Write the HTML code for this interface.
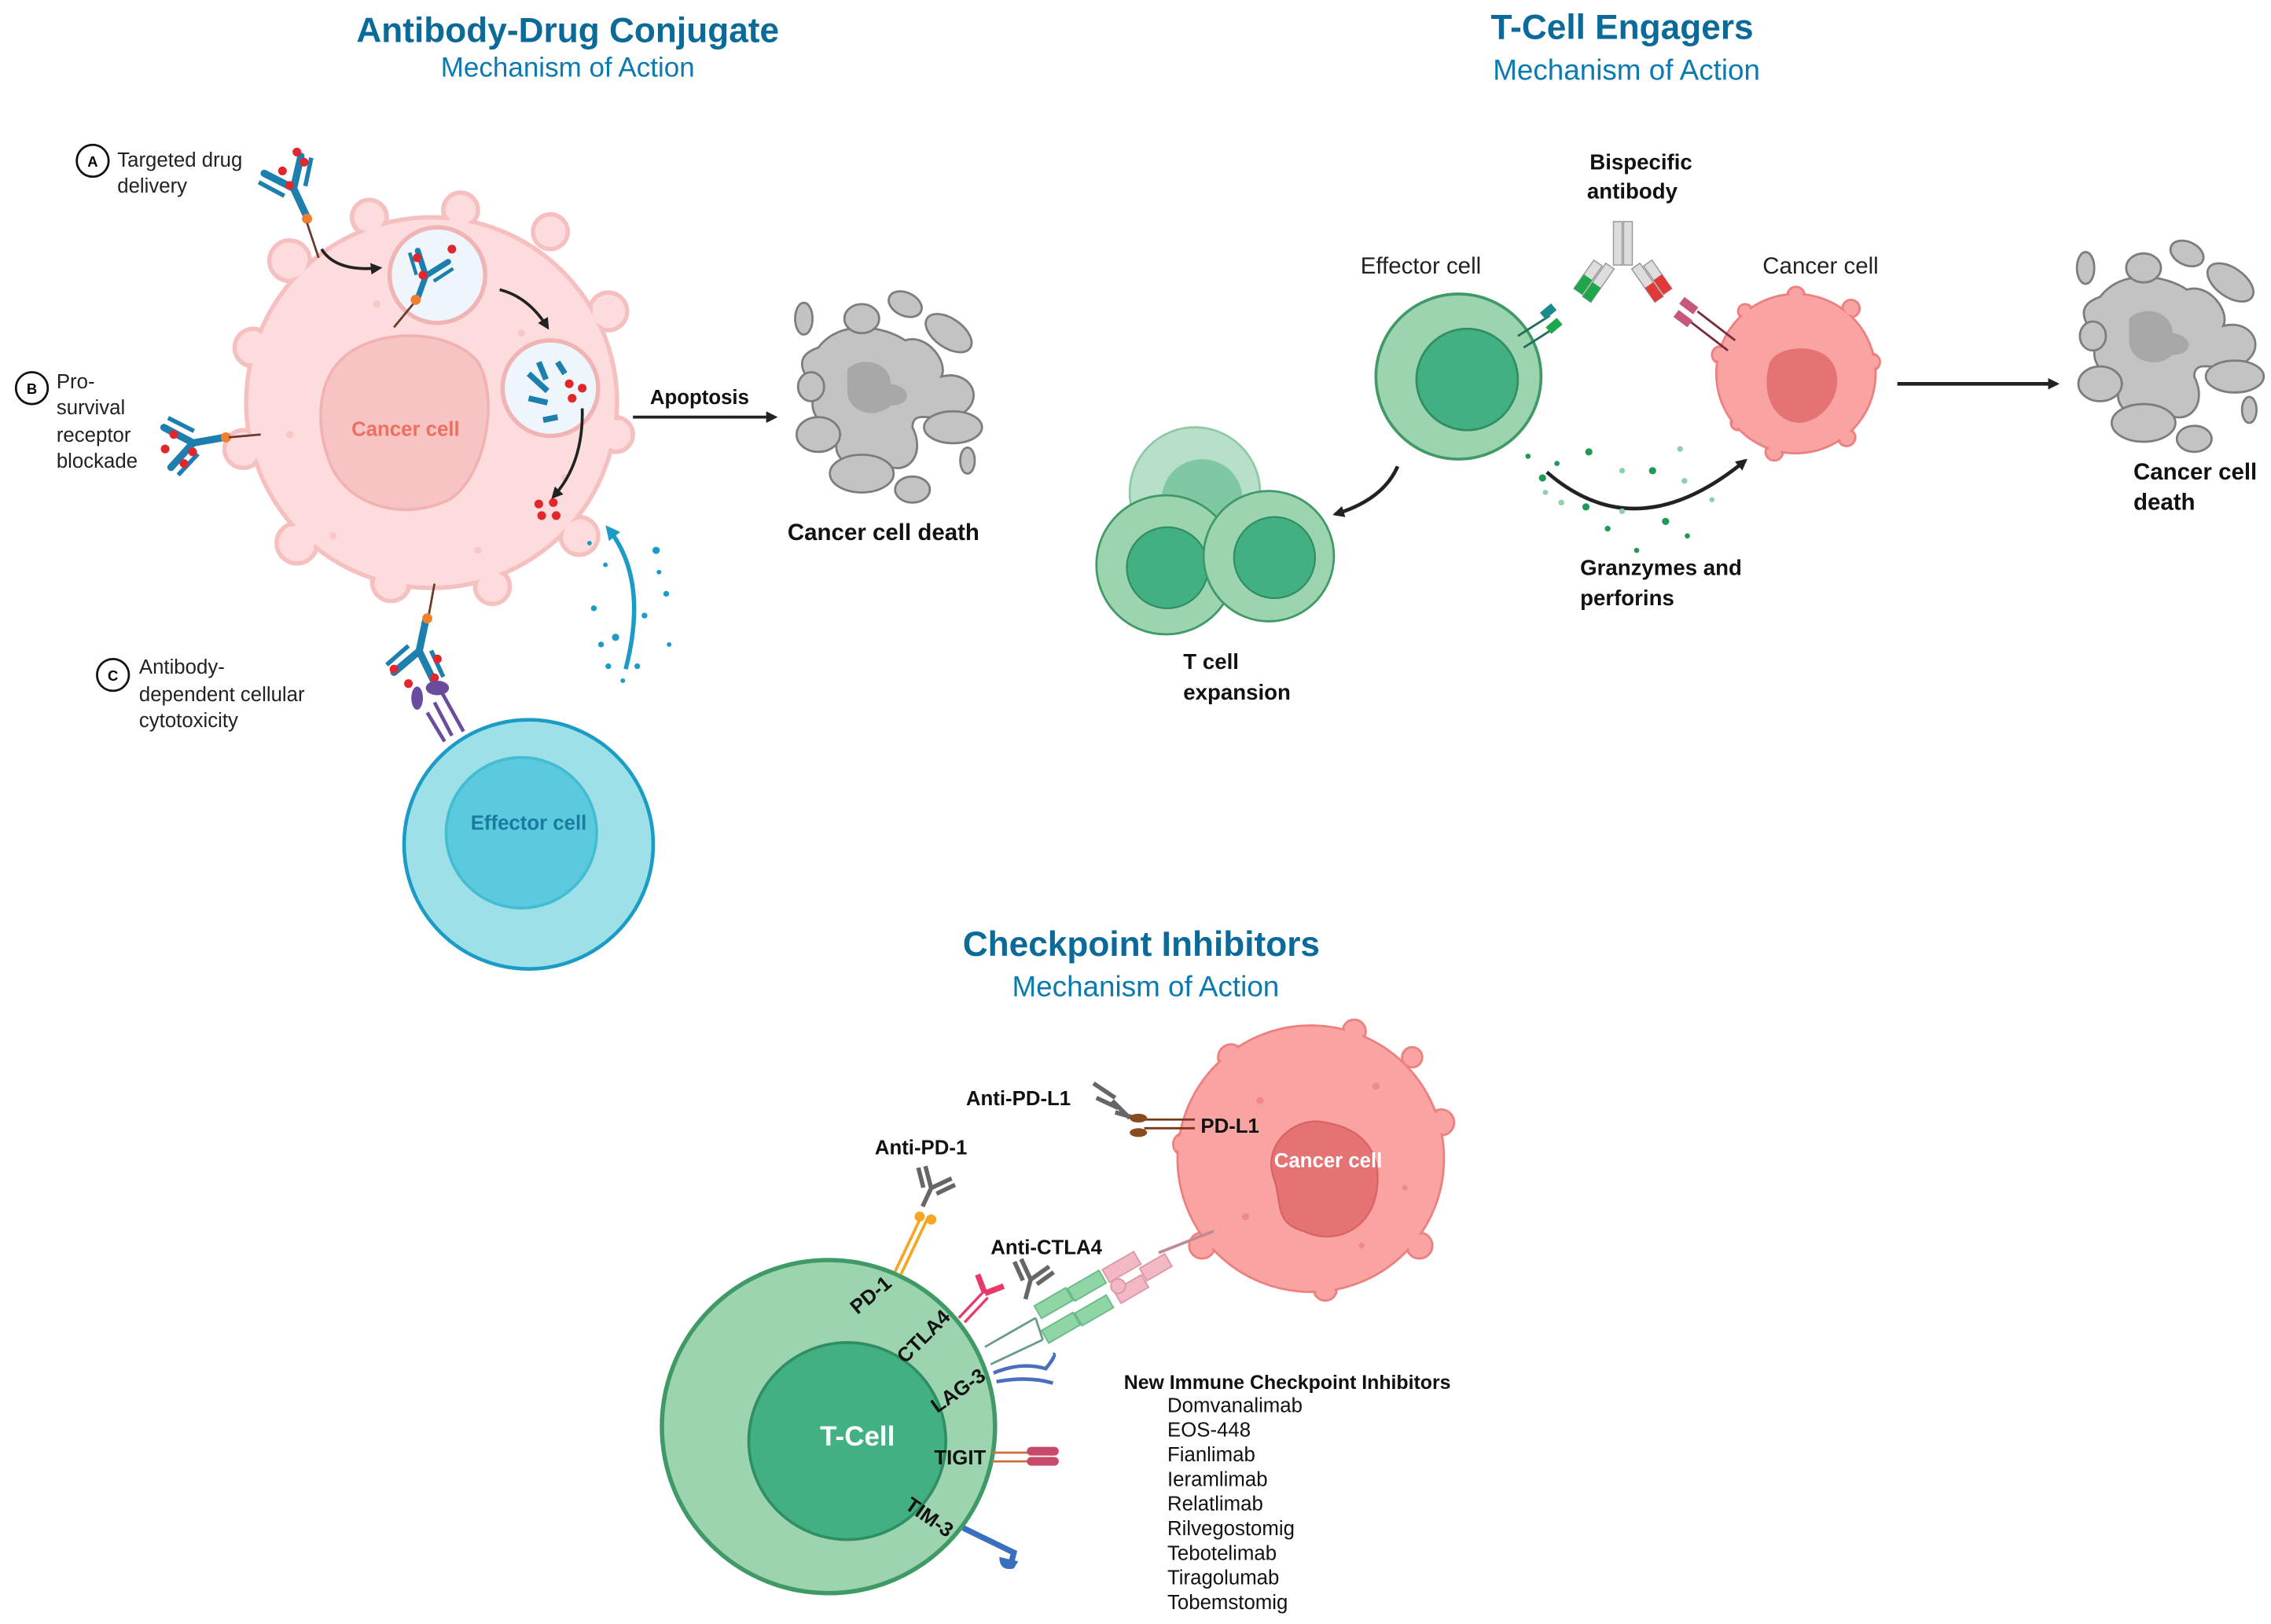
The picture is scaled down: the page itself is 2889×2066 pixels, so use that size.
<!DOCTYPE html>
<html><head><meta charset="utf-8"><style>
html,body{margin:0;padding:0;background:#fff;}
svg{display:block;}
text{font-family:"Liberation Sans",sans-serif;}
.b{font-weight:bold;fill:#111;}
.t{font-weight:bold;fill:#0a6a99;}
.s{fill:#0a7ab0;}
</style></head><body>
<svg width="2889" height="2066" viewBox="0 0 1568 1121.3" preserveAspectRatio="none" xmlns="http://www.w3.org/2000/svg">
<defs>
<marker id="ar" markerWidth="8" markerHeight="8" refX="6" refY="4" orient="auto" markerUnits="userSpaceOnUse"><path d="M0,0 L8,4 L0,8 z" fill="#222"/></marker>
<marker id="arb" markerWidth="10" markerHeight="10" refX="7" refY="5" orient="auto" markerUnits="userSpaceOnUse"><path d="M0,0 L10,5 L0,10 z" fill="#1a9cc7"/></marker>
<g id="dead">
<path d="M-45,-35 C-30,-55 0,-50 15,-40 C30,-45 45,-25 40,-15 C60,-20 70,0 55,10 C40,20 20,5 20,20 C30,40 15,55 0,45 C-20,55 -40,40 -30,25 C-45,20 -55,5 -45,-5 C-60,-20 -60,-30 -45,-35 z" fill="#c3c3c3" stroke="#7d7d7d" stroke-width="1.5"/>
<path d="M-25,-20 C-15,-30 5,-25 5,-10 C20,-8 20,5 5,5 C-5,15 -25,10 -25,-5 z" fill="#a8a8a8"/>
<ellipse cx="-45" cy="25" rx="15" ry="12" fill="#c3c3c3" stroke="#7d7d7d" stroke-width="1.5"/>
<ellipse cx="-15" cy="52" rx="22" ry="13" fill="#c3c3c3" stroke="#7d7d7d" stroke-width="1.5"/>
<ellipse cx="20" cy="63" rx="12" ry="9" fill="#c3c3c3" stroke="#7d7d7d" stroke-width="1.5"/>
<ellipse cx="48" cy="20" rx="20" ry="11" fill="#c3c3c3" stroke="#7d7d7d" stroke-width="1.5"/>
<ellipse cx="45" cy="-45" rx="18" ry="10" transform="rotate(35 45 -45)" fill="#c3c3c3" stroke="#7d7d7d" stroke-width="1.5"/>
<ellipse cx="-15" cy="-55" rx="12" ry="10" fill="#c3c3c3" stroke="#7d7d7d" stroke-width="1.5"/>
<ellipse cx="15" cy="-65" rx="12" ry="8" transform="rotate(25 15 -65)" fill="#c3c3c3" stroke="#7d7d7d" stroke-width="1.5"/>
<ellipse cx="-55" cy="-55" rx="6" ry="11" fill="#c3c3c3" stroke="#7d7d7d" stroke-width="1.5"/>
<ellipse cx="-50" cy="-8" rx="9" ry="10" fill="#c3c3c3" stroke="#7d7d7d" stroke-width="1.5"/>
<ellipse cx="58" cy="43" rx="5" ry="9" fill="#c3c3c3" stroke="#7d7d7d" stroke-width="1.5"/>
</g>
<g id="ab">
<path d="M0,0 L0,-22 M0,-22 L-14,-40 M0,-22 L14,-40" stroke="#1c7fae" stroke-width="5" fill="none" stroke-linecap="round"/>
<path d="M-8,-20 L-20,-36 M8,-20 L20,-36" stroke="#1c7fae" stroke-width="3" fill="none"/>
</g>
<g id="gab">
<path d="M0,0 L0,-14 M0,-14 L-10,-26 M0,-14 L10,-26 M-5,-12 L-14,-23 M5,-12 L14,-23" stroke="#666" stroke-width="3" fill="none"/>
</g>
</defs>

<!-- ADC -->
<text x="392" y="29" text-anchor="middle" class="t" font-size="24">Antibody-Drug Conjugate</text>
<text x="392" y="53" text-anchor="middle" class="s" font-size="19">Mechanism of Action</text>

<g>
<g fill="#fcdcdc" stroke="#f6c0c0" stroke-width="3">
<circle cx="318" cy="145" r="12"/><circle cx="200" cy="180" r="14"/><circle cx="175" cy="240" r="13"/><circle cx="168" cy="310" r="13"/><circle cx="205" cy="375" r="14"/><circle cx="270" cy="402" r="13"/><circle cx="340" cy="405" r="12"/><circle cx="400" cy="370" r="13"/><circle cx="425" cy="300" r="12"/><circle cx="420" cy="215" r="13"/><circle cx="380" cy="160" r="12"/><circle cx="255" cy="150" r="12"/>
</g>
<circle cx="298" cy="278" r="128" fill="#fcdcdc" stroke="#f6c0c0" stroke-width="3"/>
<g fill="#fcdcdc"><circle cx="318" cy="145" r="10"/><circle cx="200" cy="180" r="12"/><circle cx="175" cy="240" r="11"/><circle cx="168" cy="310" r="11"/><circle cx="205" cy="375" r="12"/><circle cx="270" cy="402" r="11"/><circle cx="340" cy="405" r="10"/><circle cx="400" cy="370" r="11"/><circle cx="425" cy="300" r="10"/><circle cx="420" cy="215" r="11"/><circle cx="380" cy="160" r="10"/><circle cx="255" cy="150" r="10"/></g>
<g fill="#f8c8c8"><circle cx="260" cy="210" r="2.5"/><circle cx="200" cy="300" r="2.5"/><circle cx="330" cy="380" r="2.5"/><circle cx="390" cy="330" r="2.5"/><circle cx="360" cy="230" r="2.5"/><circle cx="230" cy="370" r="2.5"/></g>
<path d="M230,255 C250,225 310,225 330,250 C345,275 335,330 310,345 C280,360 240,350 228,320 C218,295 220,270 230,255 z" fill="#f7c4c4" stroke="#f2b2b2" stroke-width="2"/>
<text x="280" y="301" text-anchor="middle" font-size="14" font-weight="bold" fill="#ef6f5f">Cancer cell</text>
<circle cx="302" cy="190" r="33" fill="#eef6fb" stroke="#f1b4b4" stroke-width="3"/>
<circle cx="380" cy="268" r="33" fill="#eef6fb" stroke="#f1b4b4" stroke-width="3"/>
<g transform="translate(288,207) rotate(20) scale(0.8)"><use href="#ab"/></g>
<line x1="286" y1="209" x2="272" y2="226" stroke="#6a3a2a" stroke-width="1.5"/>
<circle cx="287" cy="207" r="3.5" fill="#f08030"/>
<path d="M365,258 L378,270 M372,250 L377,262 M385,250 L390,258 M365,275 L378,278 M375,290 L385,288" stroke="#1c7fae" stroke-width="4"/>
<g fill="#e3262b"><circle cx="288" cy="178" r="3"/><circle cx="312" cy="172" r="3"/><circle cx="292" cy="190" r="3"/><circle cx="393" cy="265" r="3"/><circle cx="402" cy="268" r="3"/><circle cx="395" cy="275" r="3"/><circle cx="372" cy="348" r="3"/><circle cx="382" cy="347" r="3"/><circle cx="374" cy="356" r="3"/><circle cx="384" cy="356" r="3"/></g>
<path d="M222,172 Q232,188 262,185" stroke="#222" stroke-width="2" fill="none" marker-end="url(#ar)"/>
<path d="M345,200 Q365,205 378,226" stroke="#222" stroke-width="2" fill="none" marker-end="url(#ar)"/>
<path d="M402,282 Q403,320 382,343" stroke="#222" stroke-width="2" fill="none" marker-end="url(#ar)"/>
</g>
<!-- A antibody -->
<g transform="translate(212,150) rotate(-25)"><use href="#ab"/></g>
<circle cx="212" cy="151" r="3.5" fill="#f08030"/>
<line x1="212" y1="154" x2="220" y2="178" stroke="#6a3a2a" stroke-width="1.5"/>
<g fill="#e3262b"><circle cx="205" cy="105" r="3"/><circle cx="195" cy="118" r="3"/><circle cx="200" cy="128" r="3"/><circle cx="210" cy="112" r="3"/></g>
<!-- B -->
<g transform="translate(155,302) rotate(-100)"><use href="#ab"/></g>
<circle cx="156" cy="302" r="3.5" fill="#f08030"/>
<line x1="158" y1="302" x2="180" y2="300" stroke="#6a3a2a" stroke-width="1.5"/>
<g fill="#e3262b"><circle cx="114" cy="310" r="3"/><circle cx="127" cy="320" r="3"/><circle cx="120" cy="300" r="3"/><circle cx="133" cy="312" r="3"/></g>
<!-- C -->
<line x1="300" y1="403" x2="296" y2="425" stroke="#6a3a2a" stroke-width="1.5"/>
<g transform="translate(294,428) rotate(192)"><use href="#ab"/></g>
<circle cx="295" cy="427" r="3.5" fill="#f08030"/>
<g fill="#e3262b"><circle cx="272" cy="462" r="3"/><circle cx="282" cy="472" r="3"/><circle cx="302" cy="455" r="3"/><circle cx="300" cy="468" r="3"/></g>
<ellipse cx="288" cy="482" rx="4" ry="8" fill="#6a4c9c"/><ellipse cx="302" cy="475" rx="8" ry="5" fill="#6a4c9c"/>
<path d="M305,478 L320,505 M300,485 L312,508 M295,492 L307,512" stroke="#6a4c9c" stroke-width="2.5"/>
<circle cx="365" cy="583" r="86" fill="#9ee0e8" stroke="#1a9cc7" stroke-width="2.5"/>
<circle cx="360" cy="575" r="52" fill="#5bcadc" stroke="#44bcd2" stroke-width="2"/>
<text x="365" y="573" text-anchor="middle" font-size="14" font-weight="bold" fill="#1a7aa0">Effector cell</text>
<path d="M432,462 Q448,400 420,365" stroke="#1a9cc7" stroke-width="3" fill="none" marker-end="url(#arb)"/>
<g fill="#1a9cc7"><circle cx="410" cy="420" r="2"/><circle cx="425" cy="440" r="2.5"/><circle cx="445" cy="425" r="2"/><circle cx="418" cy="390" r="1.6"/><circle cx="455" cy="395" r="1.6"/><circle cx="440" cy="460" r="2"/><circle cx="415" cy="445" r="2"/><circle cx="460" cy="410" r="2"/><circle cx="453" cy="380" r="2.5"/><circle cx="430" cy="470" r="1.6"/><circle cx="407" cy="375" r="1.6"/><circle cx="462" cy="445" r="1.6"/><circle cx="420" cy="460" r="2"/></g>
<line x1="437" y1="288" x2="535" y2="288" stroke="#222" stroke-width="2" marker-end="url(#ar)"/>
<text x="483" y="279" text-anchor="middle" class="b" font-size="14">Apoptosis</text>
<use href="#dead" x="610" y="275"/>
<text x="610" y="373" text-anchor="middle" class="b" font-size="16">Cancer cell death</text>

<circle cx="64" cy="111" r="11" fill="#fff" stroke="#111" stroke-width="1.5"/><text x="64" y="115" text-anchor="middle" font-size="10" font-weight="bold">A</text>
<text x="81" y="115" font-size="14" fill="#222">Targeted drug</text><text x="81" y="133" font-size="14" fill="#222">delivery</text>
<circle cx="22" cy="268" r="11" fill="#fff" stroke="#111" stroke-width="1.5"/><text x="22" y="272" text-anchor="middle" font-size="10" font-weight="bold">B</text>
<text x="39" y="268" font-size="14" fill="#222">Pro-</text><text x="39" y="286" font-size="14" fill="#222">survival</text><text x="39" y="305" font-size="14" fill="#222">receptor</text><text x="39" y="323" font-size="14" fill="#222">blockade</text>
<circle cx="78" cy="466" r="11" fill="#fff" stroke="#111" stroke-width="1.5"/><text x="78" y="470" text-anchor="middle" font-size="10" font-weight="bold">C</text>
<text x="96" y="465" font-size="14" fill="#222">Antibody-</text><text x="96" y="484" font-size="14" fill="#222">dependent cellular</text><text x="96" y="502" font-size="14" fill="#222">cytotoxicity</text>

<!-- TCE -->
<text x="1120" y="27" text-anchor="middle" class="t" font-size="24">T-Cell Engagers</text>
<text x="1123" y="55" text-anchor="middle" class="s" font-size="20">Mechanism of Action</text>
<text x="1133" y="117" text-anchor="middle" class="b" font-size="15">Bispecific</text>
<text x="1127" y="137" text-anchor="middle" class="b" font-size="15">antibody</text>
<text x="981" y="189" text-anchor="middle" font-size="16" fill="#222">Effector cell</text>
<text x="1257" y="189" text-anchor="middle" font-size="16" fill="#222">Cancer cell</text>
<rect x="1114" y="153" width="6" height="30" fill="#ddd" stroke="#999" stroke-width=".8"/><rect x="1121" y="153" width="6" height="30" fill="#ddd" stroke="#999" stroke-width=".8"/>
<g transform="translate(1112,184) rotate(35)"><rect x="-4" y="0" width="7" height="28" fill="#ddd" stroke="#999" stroke-width=".8"/><rect x="-4" y="16" width="7" height="12" fill="#1ea64b"/><rect x="-12" y="3" width="7" height="24" fill="#ddd" stroke="#999" stroke-width=".8"/><rect x="-12" y="15" width="7" height="12" fill="#1ea64b"/></g>
<g transform="translate(1129,184) rotate(-35)"><rect x="-3" y="0" width="7" height="28" fill="#ddd" stroke="#999" stroke-width=".8"/><rect x="-3" y="16" width="7" height="12" fill="#e23a3a"/><rect x="5" y="3" width="7" height="24" fill="#ddd" stroke="#999" stroke-width=".8"/><rect x="5" y="15" width="7" height="12" fill="#e23a3a"/></g>
<circle cx="1007" cy="260" r="57" fill="#9dd4b0" stroke="#3f9a66" stroke-width="2"/>
<circle cx="1013" cy="262" r="35" fill="#43b083" stroke="#2f8f63" stroke-width="1.5"/>
<path d="M1048,232 L1070,218 M1052,240 L1074,226" stroke="#1d6e5a" stroke-width="1.5"/>
<rect x="1066" y="210" width="6" height="10" fill="#1a8a8a" transform="rotate(50 1069 215)"/><rect x="1070" y="220" width="6" height="10" fill="#1ea64b" transform="rotate(50 1073 225)"/>
<g fill="#f9a3a3" stroke="#ee7f7f" stroke-width="1.5"><circle cx="1188" cy="245" r="6"/><circle cx="1292" cy="250" r="6"/><circle cx="1240" cy="204" r="6"/><circle cx="1225" cy="312" r="6"/><circle cx="1275" cy="302" r="6"/><circle cx="1200" cy="292" r="5"/><circle cx="1278" cy="213" r="6"/><circle cx="1205" cy="215" r="5"/></g>
<circle cx="1240" cy="258" r="55" fill="#f9a3a3" stroke="#ee7f7f" stroke-width="1.5"/>
<g fill="#f9a3a3"><circle cx="1188" cy="245" r="4.5"/><circle cx="1292" cy="250" r="4.5"/><circle cx="1240" cy="204" r="4.5"/><circle cx="1225" cy="312" r="4.5"/><circle cx="1275" cy="302" r="4.5"/><circle cx="1200" cy="292" r="3.5"/><circle cx="1278" cy="213" r="4.5"/><circle cx="1205" cy="215" r="3.5"/></g>
<path d="M1222,250 C1228,238 1258,236 1266,252 C1274,268 1262,290 1243,292 C1225,292 1215,272 1222,250 z" fill="#e57373"/>
<path d="M1198,235 L1172,215 M1193,242 L1167,222" stroke="#7a2a3a" stroke-width="1.5"/>
<rect x="1160" y="208" width="12" height="6" fill="#c8587a" transform="rotate(37 1166 211)"/><rect x="1156" y="217" width="12" height="6" fill="#c8587a" transform="rotate(37 1162 220)"/>
<path d="M1068,326 Q1130,380 1205,318" stroke="#222" stroke-width="2.5" fill="none" marker-end="url(#ar)"/>
<g fill="#1e9a55"><circle cx="1055" cy="315" r="1.8"/><circle cx="1097" cy="312" r="2.5"/><circle cx="1065" cy="330" r="2.5"/><circle cx="1141" cy="325" r="2.5"/><circle cx="1095" cy="350" r="2.5"/><circle cx="1150" cy="360" r="2.5"/><circle cx="1075" cy="320" r="1.8"/><circle cx="1165" cy="370" r="1.8"/><circle cx="1110" cy="365" r="2"/><circle cx="1130" cy="380" r="1.8"/></g>
<g fill="#8fd0ac"><circle cx="1120" cy="325" r="2"/><circle cx="1160" cy="310" r="2"/><circle cx="1163" cy="332" r="2"/><circle cx="1078" cy="347" r="2"/><circle cx="1120" cy="353" r="2"/><circle cx="1182" cy="345" r="1.8"/><circle cx="1067" cy="340" r="1.8"/></g>
<text x="1091" y="397" class="b" font-size="15">Granzymes and</text><text x="1091" y="418" class="b" font-size="15">perforins</text>
<line x1="1310" y1="265" x2="1420" y2="265" stroke="#222" stroke-width="2.5" marker-end="url(#ar)"/>
<use href="#dead" x="1495" y="240"/>
<text x="1473" y="331" class="b" font-size="16">Cancer cell</text><text x="1473" y="352" class="b" font-size="16">death</text>
<path d="M965,322 Q955,345 922,355" stroke="#222" stroke-width="2.5" fill="none" marker-end="url(#ar)"/>
<circle cx="825" cy="340" r="45" fill="#b8e0c8" stroke="#8fcaa8" stroke-width="1.5"/>
<circle cx="830" cy="345" r="28" fill="#80c8a4"/>
<circle cx="805" cy="390" r="48" fill="#9dd4b0" stroke="#3f9a66" stroke-width="1.5"/>
<circle cx="806" cy="392" r="28" fill="#43b083" stroke="#2f8f63" stroke-width="1.2"/>
<circle cx="876" cy="384" r="45" fill="#9dd4b0" stroke="#3f9a66" stroke-width="1.5"/>
<circle cx="880" cy="385" r="28" fill="#43b083" stroke="#2f8f63" stroke-width="1.2"/>
<text x="817" y="462" class="b" font-size="15">T cell</text><text x="817" y="483" class="b" font-size="15">expansion</text>

<!-- Checkpoint -->
<text x="788" y="660" text-anchor="middle" class="t" font-size="24">Checkpoint Inhibitors</text>
<text x="791" y="688" text-anchor="middle" class="s" font-size="20">Mechanism of Action</text>
<g fill="#f9a3a3" stroke="#ee7f7f" stroke-width="1.5"><circle cx="935" cy="712" r="8"/><circle cx="850" cy="730" r="9"/><circle cx="995" cy="775" r="9"/><circle cx="980" cy="860" r="9"/><circle cx="915" cy="890" r="8"/><circle cx="830" cy="860" r="9"/><circle cx="818" cy="790" r="8"/><circle cx="975" cy="730" r="7"/></g>
<circle cx="905" cy="800" r="92" fill="#f9a3a3" stroke="#ee7f7f" stroke-width="1.5"/>
<g fill="#f9a3a3"><circle cx="935" cy="712" r="6.5"/><circle cx="850" cy="730" r="7.5"/><circle cx="995" cy="775" r="7.5"/><circle cx="980" cy="860" r="7.5"/><circle cx="915" cy="890" r="6.5"/><circle cx="830" cy="860" r="7.5"/><circle cx="818" cy="790" r="6.5"/><circle cx="975" cy="730" r="5.5"/></g>
<g fill="#f08a8a"><circle cx="870" cy="760" r="2.5"/><circle cx="950" cy="750" r="2.5"/><circle cx="970" cy="820" r="2"/><circle cx="860" cy="840" r="2.5"/><circle cx="940" cy="860" r="2"/></g>
<path d="M880,815 C870,790 895,770 915,775 C945,780 955,800 950,825 C945,850 920,860 900,850 C880,845 885,830 880,815 z" fill="#e57373" stroke="#d96262" stroke-width="1.2"/>
<text x="917" y="806" text-anchor="middle" font-size="14" font-weight="bold" fill="#fff">Cancer cell</text>
<text x="667" y="763" class="b" font-size="14">Anti-PD-L1</text>
<path d="M755,748 L770,758 M757,758 L772,765 M768,760 L780,772 M770,768 L784,772" stroke="#666" stroke-width="3"/>
<path d="M790,773 L825,773 M790,779 L825,779" stroke="#7a3a1a" stroke-width="1.5"/>
<ellipse cx="786" cy="772" rx="6" ry="3" fill="#8a4a20"/><ellipse cx="786" cy="782" rx="6" ry="3" fill="#8a4a20"/>
<text x="829" y="782" class="b" font-size="14">PD-L1</text>
<circle cx="572" cy="985" r="115" fill="#9dd4b0" stroke="#3f9a66" stroke-width="3"/>
<circle cx="585" cy="995" r="68" fill="#43b083" stroke="#2f8f63" stroke-width="2"/>
<text x="592" y="998" text-anchor="middle" font-size="19" font-weight="bold" fill="#fff">T-Cell</text>
<text x="604" y="797" class="b" font-size="14">Anti-PD-1</text>
<g transform="translate(637,833) rotate(25)"><use href="#gab"/></g>
<path d="M618,878 L637,838 M622,880 L641,840" stroke="#f5a623" stroke-width="2"/>
<circle cx="635" cy="840" r="3.5" fill="#f5a623"/><circle cx="643" cy="842" r="3.5" fill="#f5a623"/>
<text x="0" y="0" class="b" font-size="14" transform="translate(592,908) rotate(-40)">PD-1</text>
<text x="684" y="866" class="b" font-size="14">Anti-CTLA4</text>
<path d="M662,910 L678,893 M666,913 L682,896" stroke="#e83a6a" stroke-width="1.8"/>
<path d="M680,893 L675,880 M680,893 L693,888" stroke="#e83a6a" stroke-width="4"/>
<g transform="translate(708,897) rotate(15)"><use href="#gab"/></g>
<text x="0" y="0" class="b" font-size="14" transform="translate(625,942) rotate(-45)">CTLA4</text>
<path d="M680,930 L715,910 M684,942 L720,925 M715,910 L720,925" stroke="#6a9a90" stroke-width="1.5" fill="none"/>
<g fill="#8fd6a4" stroke="#6ab88a" stroke-width="1"><rect x="715" y="895" width="25" height="10" transform="rotate(-30 727 900)"/><rect x="738" y="883" width="25" height="10" transform="rotate(-30 750 888)"/><rect x="720" y="912" width="25" height="10" transform="rotate(-30 732 917)"/><rect x="743" y="900" width="25" height="10" transform="rotate(-30 755 905)"/></g>
<g fill="#f2b8c4" stroke="#dc98a6" stroke-width="1"><rect x="762" y="870" width="25" height="10" transform="rotate(-30 774 875)"/><rect x="770" y="885" width="22" height="10" transform="rotate(-30 781 890)"/><rect x="788" y="870" width="20" height="10" transform="rotate(-30 798 875)"/><circle cx="772" cy="888" r="5"/></g>
<line x1="800" y1="865" x2="838" y2="850" stroke="#c08a96" stroke-width="2"/>
<path d="M686,948 Q705,940 722,945 Q730,935 727,935 M688,954 Q710,950 727,955" stroke="#4a6fc0" stroke-width="2.5" fill="none"/>
<text x="0" y="0" class="b" font-size="14" transform="translate(647,976) rotate(-35)">LAG-3</text>
<text x="645" y="1011" class="b" font-size="14">TIGIT</text>
<path d="M685,1003 L710,1003 M685,1009 L710,1009" stroke="#c87040" stroke-width="1.5"/>
<rect x="709" y="999" width="22" height="6" rx="3" fill="#c84a6a"/><rect x="709" y="1006" width="22" height="6" rx="3" fill="#c84a6a"/>
<text x="0" y="0" class="b" font-size="14" transform="translate(624,1041) rotate(35)">TIM-3</text>
<path d="M665,1055 L700,1072 L698,1080" stroke="#3a6fc0" stroke-width="4" fill="none"/>
<path d="M690,1075 Q690,1085 700,1083 L703,1078" fill="#3a6fc0"/>
<text x="776" y="959" class="b" font-size="13.5">New Immune Checkpoint Inhibitors</text>
<g font-size="14" fill="#111">
<text x="806" y="975">Domvanalimab</text><text x="806" y="992">EOS-448</text><text x="806" y="1009">Fianlimab</text><text x="806" y="1026">Ieramlimab</text><text x="806" y="1043">Relatlimab</text><text x="806" y="1060">Rilvegostomig</text><text x="806" y="1077">Tebotelimab</text><text x="806" y="1094">Tiragolumab</text><text x="806" y="1111">Tobemstomig</text>
</g>
</svg>
</body></html>
